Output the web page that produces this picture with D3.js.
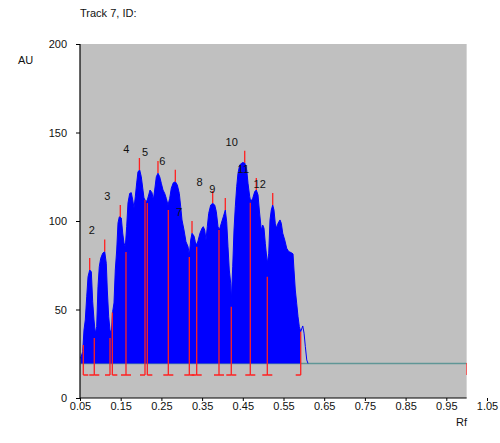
<!DOCTYPE html>
<html><head><meta charset="utf-8">
<script src="https://cdn.jsdelivr.net/npm/d3@7"></script>
<style>body{margin:0;background:#fff}svg{display:block}text{font-family:Arial,"Liberation Sans",sans-serif}</style>
</head><body><svg id="c" width="500" height="443"></svg>
<script>
// Densitometric profile (Rf, AU)
const profileRf = [0.0517,0.0566,0.0598,0.0630,0.0665,0.0697,0.0738,0.0778,0.0812,0.0844,0.0876,0.0910,0.0942,0.0974,0.1009,0.1058,0.1107,0.1146,0.1171,0.1205,0.1237,0.1269,0.1303,0.1335,0.1367,0.1402,0.1434,0.1466,0.1515,0.1549,0.1581,0.1613,0.1647,0.1679,0.1721,0.1760,0.1795,0.1827,0.1859,0.1893,0.1925,0.1967,0.2006,0.2041,0.2072,0.2122,0.2154,0.2188,0.2220,0.2269,0.2301,0.2335,0.2375,0.2416,0.2458,0.2498,0.2539,0.2581,0.2620,0.2662,0.2704,0.2743,0.2792,0.2842,0.2891,0.2940,0.2974,0.3006,0.3055,0.3104,0.3154,0.3186,0.3220,0.3252,0.3301,0.3333,0.3367,0.3399,0.3448,0.3498,0.3529,0.3564,0.3596,0.3628,0.3662,0.3711,0.3760,0.3810,0.3849,0.3891,0.3923,0.3972,0.4021,0.4070,0.4104,0.4136,0.4168,0.4203,0.4217,0.4252,0.4284,0.4316,0.4350,0.4382,0.4424,0.4480,0.4547,0.4596,0.4628,0.4670,0.4695,0.4744,0.4793,0.4832,0.4874,0.4910,0.4955,0.4990,0.5021,0.5053,0.5102,0.5137,0.5168,0.5200,0.5235,0.5266,0.5298,0.5333,0.5365,0.5414,0.5446,0.5481,0.5530,0.5579,0.5628,0.5692,0.5734,0.5758,0.5790,0.5824,0.5857,0.5889,0.5923,0.5973,0.6005,0.6037,0.6071,0.6102];
const profileAU = [22.5,26.2,38.4,44.1,57.2,68.5,72.3,71.4,54.4,44.1,36.6,40.3,62.9,74.2,78.9,81.8,82.7,76.1,61.0,45.9,38.4,36.6,48.8,53.7,72.3,83.6,98.9,102.4,101.7,93.2,87.6,85.3,96.8,110.2,115.6,116.0,111.9,107.3,113.7,121.5,127.9,128.8,125.0,118.6,113.0,110.9,111.9,114.7,117.5,116.0,111.9,117.5,125.0,127.0,125.0,121.3,117.5,115.6,112.8,109.0,112.8,118.5,121.6,122.2,120.3,115.6,108.1,100.6,94.9,88.3,85.5,80.8,89.3,93.1,91.5,88.3,86.4,88.7,93.1,95.9,96.8,94.9,89.3,96.8,104.3,109.0,110.0,109.0,105.3,96.8,94.9,98.7,102.4,106.2,99.6,85.5,72.3,64.8,54.4,74.2,94.9,108.1,119.4,127.0,131.6,132.9,132.9,128.8,121.3,113.7,110.9,112.8,116.6,117.5,114.7,105.1,94.9,97.7,95.9,87.4,76.1,81.8,100.6,106.2,109.0,106.2,98.7,95.9,98.7,100.6,98.7,93.1,89.3,84.6,82.7,82.1,81.4,72.3,61.0,53.5,45.9,40.3,37.5,40.7,36.6,29.0,21.5,19.5];

const baselineAU = 19.5;
const baselineEndRf = 1.0;
const bracketAU = 13;

// Peaks
const peakLabels = ["1","2","3","4","5","6","7","8","9","10","11","12"];
const peakRf = [0.0738,0.1107,0.1490,0.1960,0.2416,0.2842,0.3252,0.3760,0.4070,0.4547,0.4832,0.5235];
const peakAU = [72.3,82.7,102.3,128.8,127.1,122.2,93.2,110.2,106.2,132.9,117.5,109.0];

// Peak boundaries (Rf, AU of the marker top)
const boundaryRf = [0.0581,0.0851,0.1237,0.1294,0.1630,0.2097,0.2154,0.2670,0.3186,0.3367,0.3915,0.4217,0.4684,0.5102,0.5923,1.0];
const boundaryAU = [29.9,33.9,33.9,48.3,82.5,111.9,110.2,106.2,79.7,85.5,94.9,51.6,110.3,68.5,37.5,19.8];
const peakStart = [0,1,3,4,6,7,8,9,10,11,12,13];
const peakEnd   = [1,2,4,5,7,8,9,10,11,12,13,14];

const xTicks = [0.05,0.15,0.25,0.35,0.45,0.55,0.65,0.75,0.85,0.95,1.05];
const yTicks = [0,50,100,150,200];

const svg = d3.select("#c");
const x = d3.scaleLinear().domain([0.05,1.05]).range([80,487]);
const y = d3.scaleLinear().domain([0,200]).range([398,44]);
const plotR = x(1.0);

svg.append("defs").append("clipPath").attr("id","pc")
  .append("rect").attr("x",80).attr("y",44).attr("width",plotR-80).attr("height",354);

svg.append("rect").attr("x",80).attr("y",44).attr("width",plotR-80).attr("height",354).attr("fill","#c0c0c0");

const g = svg.append("g").attr("clip-path","url(#pc)");

const pts = profileRf.map((r,i)=>({r, a:profileAU[i]}));
const lastB = boundaryRf[peakEnd[peakEnd.length-1]];

// baseline
g.append("line").attr("x1",x(profileRf[0])).attr("x2",x(baselineEndRf))
  .attr("y1",y(baselineAU)).attr("y2",y(baselineAU))
  .attr("stroke","#5f9696").attr("stroke-width",1.5);

const fillPts = pts.filter(p=>p.r<=lastB+1e-9);
g.append("path").datum(fillPts)
  .attr("d",d3.area().x(d=>x(d.r)).y0(y(baselineAU)).y1(d=>y(d.a)))
  .attr("fill","#0000ff");
g.append("path").datum(pts)
  .attr("d",d3.line().x(d=>x(d.r)).y(d=>y(d.a)))
  .attr("fill","none").attr("stroke","#0000ff").attr("stroke-width",1);

const red = "#ff2020";
// boundary verticals
boundaryRf.forEach((r,i)=>{
  g.append("line").attr("x1",x(r)).attr("x2",x(r)).attr("y1",y(bracketAU)).attr("y2",y(boundaryAU[i]))
   .attr("stroke",red).attr("stroke-width",1.3);
});
// bracket ticks
const tl = 5;
peakStart.forEach((si,k)=>{
  const xs = x(boundaryRf[si]), xe = x(boundaryRf[peakEnd[k]]);
  g.append("line").attr("x1",xs).attr("x2",xs+tl).attr("y1",y(bracketAU)).attr("y2",y(bracketAU)).attr("stroke",red).attr("stroke-width",1.3);
  g.append("line").attr("x1",xe-tl).attr("x2",xe).attr("y1",y(bracketAU)).attr("y2",y(bracketAU)).attr("stroke",red).attr("stroke-width",1.3);
});
// end marker tick (goes right, clipped)
// peak tips
peakRf.forEach((r,i)=>{
  g.append("line").attr("x1",x(r)).attr("x2",x(r)).attr("y1",y(peakAU[i])).attr("y2",y(peakAU[i])-12)
   .attr("stroke",red).attr("stroke-width",1.3);
  g.append("text").attr("x",x(r)-13).attr("y",y(peakAU[i])-21).attr("dy","0.35em")
   .attr("text-anchor","middle").attr("font-size",11).attr("fill","#111").text(peakLabels[i]);
});

// axes
const ya = svg.append("g").attr("transform","translate(80,0)")
  .call(d3.axisLeft(y).tickValues(yTicks).tickSize(4).tickPadding(9));
ya.select(".domain").remove();
ya.selectAll("text").attr("font-size",11).attr("fill","#111").style("font-family","Arial,'Liberation Sans',sans-serif");
svg.append("line").attr("x1",80).attr("x2",80).attr("y1",44).attr("y2",398).attr("stroke","#000").attr("stroke-width",1.2);

const xa = svg.append("g").attr("transform","translate(0,398)")
  .call(d3.axisBottom(x).tickValues(xTicks).tickSize(3).tickPadding(1).tickFormat(d3.format(".2f")));
xa.select(".domain").remove();
xa.selectAll("text").attr("font-size",11).attr("fill","#111").style("font-family","Arial,'Liberation Sans',sans-serif");
svg.append("line").attr("x1",80).attr("x2",plotR).attr("y1",398).attr("y2",398).attr("stroke","#000").attr("stroke-width",1.2);

svg.append("text").attr("x",80).attr("y",17).attr("font-size",11).attr("fill","#111").text("Track 7, ID:");
svg.append("text").attr("x",18).attr("y",64).attr("font-size",11).attr("fill","#111").text("AU");
svg.append("text").attr("x",456).attr("y",426).attr("font-size",11).attr("fill","#111").text("Rf");
</script></body></html>
